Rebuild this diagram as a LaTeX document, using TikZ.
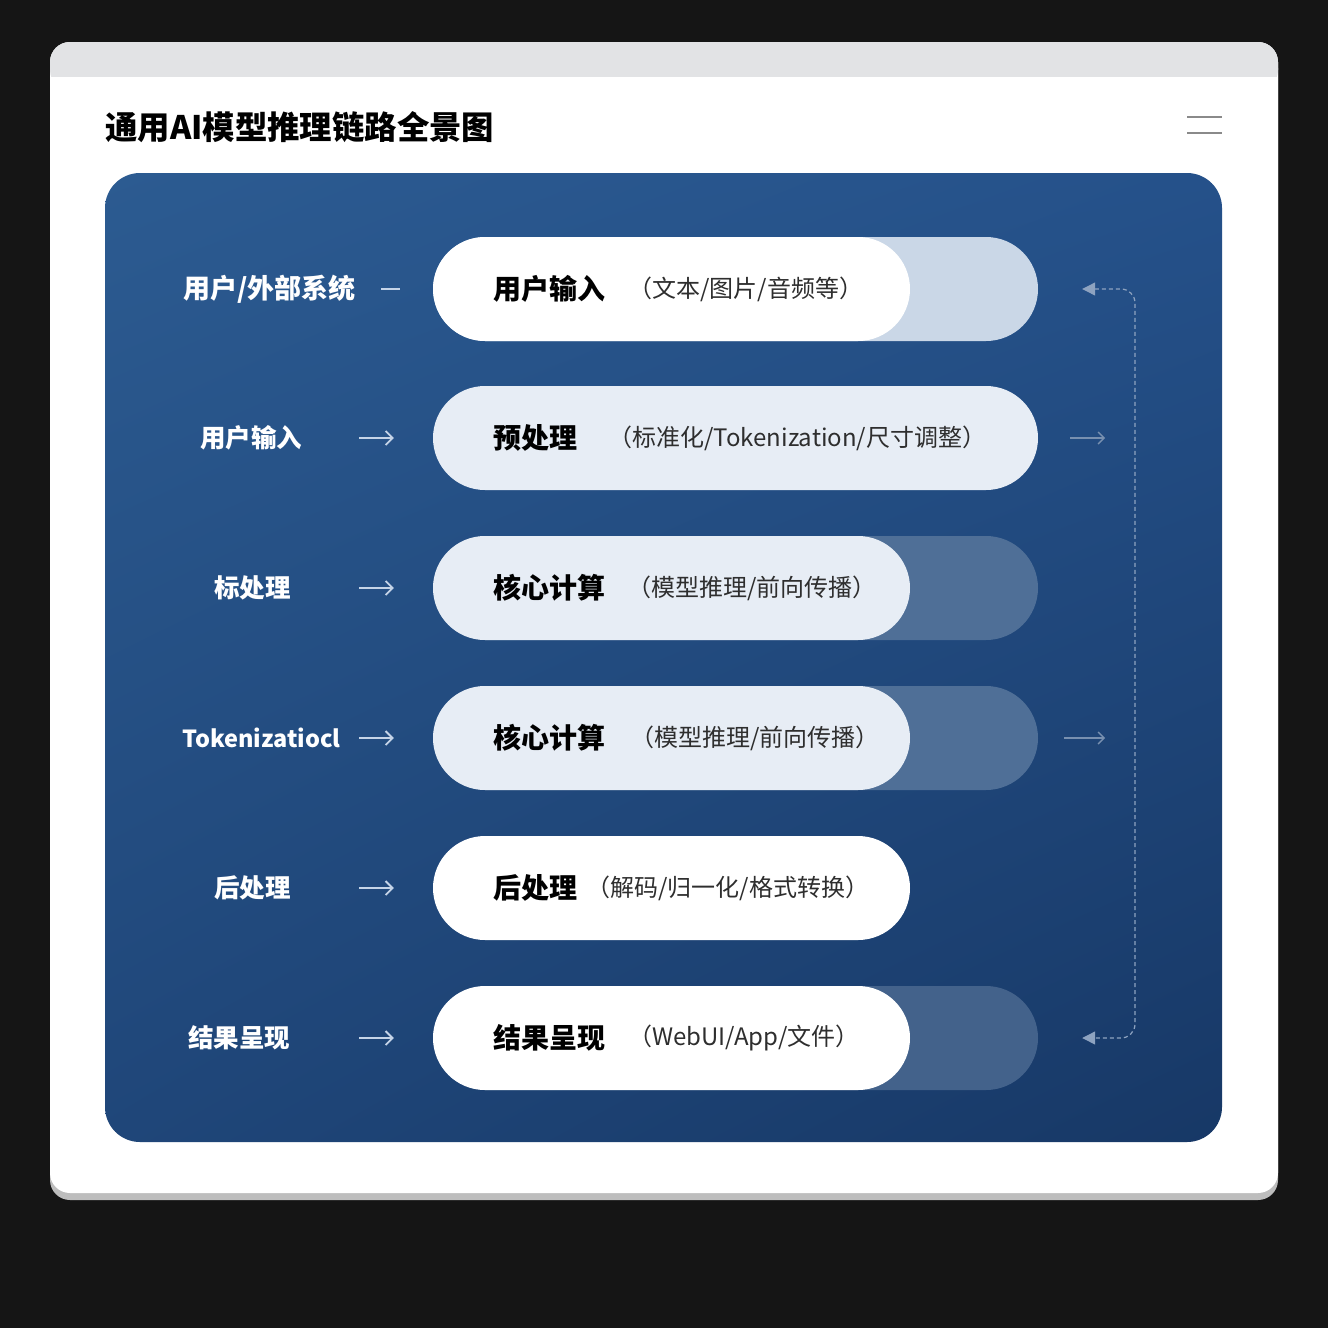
\documentclass[tikz,border=0pt]{standalone}
\usepackage{fontspec}
\setmainfont{Noto Sans CJK SC}
\usetikzlibrary{shapes.misc,arrows.meta,shadings}
\definecolor{bgdark}{HTML}{151515}
\definecolor{cardshadow}{HTML}{BDBDBD}
\definecolor{topbar}{HTML}{E2E3E5}
\definecolor{pUL}{HTML}{2C5B91}
\definecolor{pUR}{HTML}{25518A}
\definecolor{pLL}{HTML}{1F4679}
\definecolor{pLR}{HTML}{173866}
\definecolor{pillwhite}{HTML}{FFFFFF}
\definecolor{pilllight}{HTML}{E7EDF5}
\definecolor{backlight}{HTML}{CAD7E7}
\definecolor{backmid}{HTML}{4F6F97}
\definecolor{backdark}{HTML}{43628B}
\definecolor{arrowlight}{HTML}{C5D4E8}
\definecolor{arrowfaint}{HTML}{7890B0}
\definecolor{loopcol}{HTML}{8EA3C0}
\definecolor{subtext}{HTML}{2E2E2E}
\definecolor{hamb}{HTML}{8A8A8A}
\tikzset{
  pill/.style={rounded rectangle, minimum height=104pt, inner sep=0pt, draw=none},
  frontpill/.style={pill, minimum width=477pt},
  backpill/.style={pill, minimum width=605pt},
  maintext/.style={anchor=west, inner sep=0pt, font=\bfseries\fontsize{28}{33}\selectfont, text=black},
  subtxt/.style={anchor=west, inner sep=0pt, font=\fontsize{24}{28}\selectfont, text=subtext},
  lefttext/.style={anchor=west, inner sep=0pt, font=\bfseries\fontsize{25.5}{30}\selectfont, text=white},
  leftarrow/.style={draw=arrowlight, line width=1.8pt, -{Straight Barb[length=7pt,width=14pt]}},
  rightarrow/.style={draw=arrowfaint, line width=1.4pt, -{Straight Barb[length=6pt,width=12pt]}},
  loopline/.style={draw=loopcol, line width=1.2pt, dash pattern=on 4pt off 3pt, rounded corners=14pt,
     {Triangle[length=13pt,width=13pt]}-{Triangle[length=13pt,width=13pt]}}
}
\begin{document}
\begin{tikzpicture}[x=1pt,y=-1pt]
\useasboundingbox (0,0) rectangle (1328,1328);
\fill[bgdark] (0,0) rectangle (1328,1328);
% card
\fill[cardshadow, rounded corners=20pt] (50,48) rectangle (1278,1200);
\fill[white, rounded corners=20pt] (50,42) rectangle (1278,1193);
\fill[topbar, rounded corners=20pt] (50,42) rectangle (1278,90);
\fill[white] (50,77) rectangle (1278,100);
% title
\node[anchor=west, inner sep=0pt, font=\bfseries\fontsize{32.4}{38}\selectfont, text=black] (title) at (105,127) {通用AI模型推理链路全景图};
% hamburger
\draw[hamb, line width=2pt] (1187,117) -- (1222,117);
\draw[hamb, line width=2pt] (1187,133) -- (1222,133);
% panel
\shade[rounded corners=35pt, upper left=pUL, upper right=pUR, lower left=pLL, lower right=pLR] (105,173) rectangle (1222,1142);

% row 1
\node[backpill, fill=backlight] (p1b) at (735.5,289) {};
\node[frontpill, fill=pillwhite] (p1) at (671.5,289) {};
\node[maintext] (m1) at (493,289) {用户输入};
\node[subtxt] (s1) at (628,289) {（文本/图片/音频等）};
\node[lefttext, font=\bfseries\fontsize{27}{31}\selectfont] (l1) at (183,289) {用户/外部系统};
% row 2
\node[backpill, fill=pilllight] (p2) at (735.5,438) {};
\node[maintext] (m2) at (493,438) {预处理};
\node[subtxt] (s2) at (608,438) {（标准化/Tokenization/尺寸调整）};
\node[lefttext] (l2) at (200,438) {用户输入};
% row 3
\node[backpill, fill=backmid] (p3b) at (735.5,588) {};
\node[frontpill, fill=pilllight] (p3) at (671.5,588) {};
\node[maintext] (m3) at (493,588) {核心计算};
\node[subtxt] (s3) at (627,588) {（模型推理/前向传播）};
\node[lefttext] (l3) at (214,588) {标处理};
% row 4
\node[backpill, fill=backmid] (p4b) at (735.5,738) {};
\node[frontpill, fill=pilllight] (p4) at (671.5,738) {};
\node[maintext] (m4) at (493,738) {核心计算};
\node[subtxt] (s4) at (630,738) {（模型推理/前向传播）};
\node[lefttext, font=\bfseries\fontsize{23.5}{28}\selectfont] (l4) at (182,738) {Tokenizatiocl};
% row 5
\node[frontpill, fill=pillwhite] (p5) at (671.5,888) {};
\node[maintext] (m5) at (493,888) {后处理};
\node[subtxt] (s5) at (586,888) {（解码/归一化/格式转换）};
\node[lefttext] (l5) at (214,888) {后处理};
% row 6
\node[backpill, fill=backdark] (p6b) at (735.5,1038) {};
\node[frontpill, fill=pillwhite] (p6) at (671.5,1038) {};
\node[maintext] (m6) at (493,1038) {结果呈现};
\node[subtxt] (s6) at (628,1038) {（WebUI/App/文件）};
\node[lefttext] (l6) at (188,1038) {结果呈现};

% left connectors
\coordinate (a1) at (381,289);
\coordinate (a2) at (359,438);
\coordinate (a3) at (359,588);
\coordinate (a4) at (359,738);
\coordinate (a5) at (359,888);
\coordinate (a6) at (359,1038);
\draw[arrowlight, line width=1.8pt, shorten >=33pt] (a1) -- (p1.west);
\draw[leftarrow, shorten >=39pt] (a2) -- (p2.west);
\draw[leftarrow, shorten >=39pt] (a3) -- (p3b.west);
\draw[leftarrow, shorten >=39pt] (a4) -- (p4b.west);
\draw[leftarrow, shorten >=39pt] (a5) -- (p5.west);
\draw[leftarrow, shorten >=39pt] (a6) -- (p6b.west);

% right faint arrows
\coordinate (r2) at (1105,438);
\coordinate (r4) at (1105,738);
\draw[rightarrow, shorten <=32pt] (p2.east) -- (r2);
\draw[rightarrow, shorten <=26pt] (p4b.east) -- (r4);

% loop line
\coordinate (rtop) at (1135,289);
\coordinate (rbot) at (1135,1038);
\draw[loopline, shorten <=44pt, shorten >=44pt] (p1b.east) -- (rtop) -- (rbot) -- (p6b.east);
\end{tikzpicture}
\end{document}
